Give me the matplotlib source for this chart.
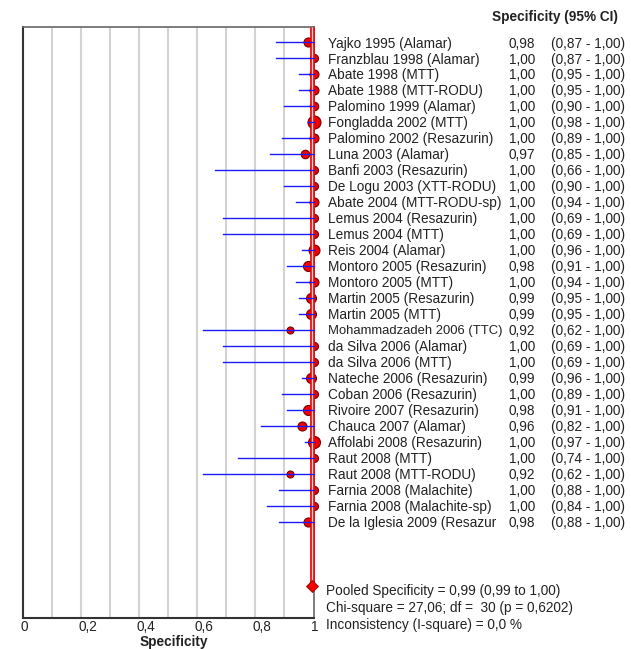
import numpy as np
import matplotlib
matplotlib.use("Agg")
import matplotlib.pyplot as plt
from matplotlib.transforms import offset_copy

plt.rcParams['font.family'] = ['Liberation Sans', 'DejaVu Sans']

# study data
studies = ["Yajko 1995 (Alamar)", "Franzblau 1998 (Alamar)", "Abate 1998 (MTT)",
           "Abate 1988 (MTT-RODU)", "Palomino 1999 (Alamar)", "Fongladda 2002 (MTT)",
           "Palomino 2002 (Resazurin)", "Luna 2003 (Alamar)", "Banfi 2003 (Resazurin)",
           "De Logu 2003 (XTT-RODU)", "Abate 2004 (MTT-RODU-sp)", "Lemus 2004 (Resazurin)",
           "Lemus 2004 (MTT)", "Reis 2004 (Alamar)", "Montoro 2005 (Resazurin)",
           "Montoro 2005 (MTT)", "Martin 2005 (Resazurin)", "Martin 2005 (MTT)",
           "Mohammadzadeh 2006 (TTC)", "da Silva 2006 (Alamar)", "da Silva 2006 (MTT)",
           "Nateche 2006 (Resazurin)", "Coban 2006 (Resazurin)", "Rivoire 2007 (Resazurin)",
           "Chauca 2007 (Alamar)", "Affolabi 2008 (Resazurin)", "Raut 2008 (MTT)",
           "Raut 2008 (MTT-RODU)", "Farnia 2008 (Malachite)", "Farnia 2008 (Malachite-sp)",
           "De la Iglesia 2009 (Resazur"]
spec = [0.98, 1.00, 1.00, 1.00, 1.00, 1.00, 1.00, 0.97, 1.00, 1.00, 1.00, 1.00,
        1.00, 1.00, 0.98, 1.00, 0.99, 0.99, 0.92, 1.00, 1.00, 0.99, 1.00, 0.98,
        0.96, 1.00, 1.00, 0.92, 1.00, 1.00, 0.98]
lower = [0.87, 0.87, 0.95, 0.95, 0.90, 0.98, 0.89, 0.85, 0.66, 0.90, 0.94, 0.69,
         0.69, 0.96, 0.91, 0.94, 0.95, 0.95, 0.62, 0.69, 0.69, 0.96, 0.89, 0.91,
         0.82, 0.97, 0.74, 0.62, 0.88, 0.84, 0.88]
upper = [1.00] * 31
# marker diameter (px), roughly the study weight
weight_px = [9, 8, 9, 9, 8.5, 13, 9, 8.5, 8, 8, 9, 8, 8, 11, 10, 9, 10, 10,
             7, 8, 8, 10, 8, 10, 9, 12, 8, 7, 8, 8, 9]
xticks = [0, 0.2, 0.4, 0.6, 0.8, 1.0]
xticklabels = ["0", "0,2", "0,4", "0,6", "0,8", "1"]

pooled = 0.995
pooled_txt = "Pooled Specificity = 0,99 (0,99 to 1,00)"
chi_txt = "Chi-square = 27,06; df =  30 (p = 0,6202)"
incons_txt = "Inconsistency (I-square) = 0,0 %"

FS = 9.8
TXT = '#222222'
W, H = 631, 649
fig = plt.figure(figsize=(W / 100, H / 100), dpi=100)
ax = fig.add_axes([23 / W, 1 - 617.5 / H, 290.5 / W, 590.5 / H])

rows = np.arange(len(studies))
ax.set_xlim(0, 1)
ax.set_ylim(36.0, -0.94)

for g in np.arange(0.1, 0.95, 0.1):
    ax.axvline(g, color='#d2d2d2', lw=1.5, zorder=0)

fmt = lambda v: f"{v:.2f}".replace('.', ',')

for i in rows:
    ax.plot(spec[i], i, 'o', ms=weight_px[i] * 0.72, mfc='#f00000',
            mec='#7a0000', mew=0.8, zorder=2, clip_on=False)
    ax.plot([lower[i], upper[i]], [i, i], color='#1a1aff', lw=1.0, zorder=4,
            clip_on=False)

# pooled line (red double line)
ax.plot([pooled, pooled], [-0.94, 34], color='#f00000', lw=3.4, zorder=3,
        solid_capstyle='butt', clip_on=False)
ax.plot([pooled, pooled], [-0.94, 34], color='#ffd0d0', lw=1.0, zorder=3,
        solid_capstyle='butt', clip_on=False)
ax.plot(pooled, 34, 'D', ms=6.5, mfc='#f00000', mec='#990000', mew=0.6,
        zorder=5, clip_on=False)

for s in ['left', 'bottom']:
    ax.spines[s].set_color('#333333')
    ax.spines[s].set_linewidth(1.5)
for s in ['top', 'right']:
    ax.spines[s].set_color('#666666')
    ax.spines[s].set_linewidth(1.2)

ax.set_yticks([])
ax.set_xticks([])

# tick labels: left edge just left of the tick position, below the axis
lab_tr = offset_copy(ax.get_xaxis_transform(), fig=fig, x=-2.5, y=-9.5, units='dots')
for v, t in zip(xticks, xticklabels):
    ax.text(v, 0, t, transform=lab_tr, fontsize=FS, ha='left', va='center',
            color=TXT, clip_on=False)

fig.text(174 / W, 1 - 642 / H, "Specificity", fontsize=FS, fontweight='bold',
         ha='center', va='center', color=TXT)

trans = ax.get_yaxis_transform()
x_lab = (328 - 23) / 290.5
x_est = (535 - 23) / 290.5
x_ci = (551 - 23) / 290.5
for i in rows:
    # the longest study name runs into the estimate column; shrink it a touch
    lab_fs = FS - 0.4 if len(studies[i]) > 23 and studies[i].startswith("Moham") else FS
    ax.text(x_lab, i, studies[i], transform=trans, fontsize=lab_fs, va='center_baseline',
            ha='left', color=TXT, clip_on=False)
    ax.text(x_est, i, fmt(spec[i]), transform=trans, fontsize=FS, va='center_baseline',
            ha='right', color=TXT, clip_on=False)
    ax.text(x_ci, i, f"({fmt(lower[i])} - {fmt(upper[i])})", transform=trans,
            fontsize=FS, va='center_baseline', ha='left', color=TXT, clip_on=False)

fig.text(618 / W, 1 - 17 / H, "Specificity (95% CI)", fontsize=FS,
         fontweight='bold', ha='right', va='center', color=TXT)

for txt, yp in [(pooled_txt, 591), (chi_txt, 608), (incons_txt, 625)]:
    fig.text(326 / W, 1 - yp / H, txt, fontsize=FS, ha='left', va='center',
             color=TXT)

fig.savefig("out.png", dpi=100)
